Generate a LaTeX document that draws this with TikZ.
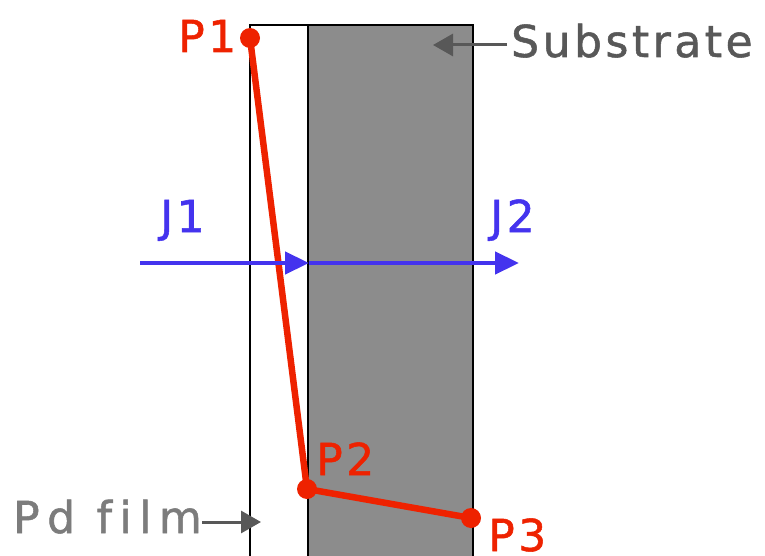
\documentclass[tikz,border=0pt]{standalone}
\usepackage{fontspec}
\setmainfont{DejaVu Sans}[LetterSpace=8,FakeBold=1.2,Ligatures=NoCommon]
\newfontfamily\pdfont{DejaVu Sans}[LetterSpace=17,FakeBold=1.2,Ligatures=NoCommon]
\usetikzlibrary{arrows.meta}
\definecolor{pred}{HTML}{EE2200}
\definecolor{jblue}{HTML}{4433EE}
\definecolor{subgray}{HTML}{8C8C8C}
\definecolor{lblgray}{HTML}{585858}
\definecolor{pdgray}{HTML}{7C7C7C}
\begin{document}
\begin{tikzpicture}[x=1pt,y=-1pt,
  lbl/.style={inner sep=0pt,font=\fontsize{44}{50}\selectfont},
  redlbl/.style={lbl,text=pred},
  bluelbl/.style={lbl,text=jblue},
  flux/.style={jblue,line width=4.5pt,-{Triangle[length=24pt,width=22pt]}},
  pointer/.style={lblgray,line width=3pt,-{Triangle[length=20pt,width=22pt]}},
  profile/.style={pred,line width=6.5pt,line join=round},
  dot/.style={circle,fill=pred,inner sep=0pt,minimum size=20pt}]
\useasboundingbox (0,0) rectangle (765,556);
% layers
\coordinate (ftl) at (250,25);
\coordinate (stl) at (308,25);
\coordinate (sbr) at (473,557);
\fill[subgray] (stl) rectangle (sbr);
\draw[black,line width=1.5pt] (ftl) rectangle (sbr);
\draw[black,line width=1.5pt] (stl) -- (308,557);
% points
\node[dot] (p1) at (250,38) {};
\node[dot] (p2) at (307,489) {};
\node[dot] (p3) at (471,518) {};
\draw[profile] (p1.center) -- (p2.center) -- (p3.center);
% flux
\coordinate (jin) at (140,263);
\coordinate (jmid) at (309,263);
\coordinate (jout) at (519,263);
\draw[flux] (jin) -- (jmid);
\draw[flux] (jmid) -- (jout);
% labels
\node[redlbl,anchor=base west] (lp1) at (178,52) {P1};
\node[redlbl,anchor=base west] (lp2) at (316,475) {P2};
\node[redlbl,anchor=base west] (lp3) at (488,551) {P3};
\node[bluelbl,anchor=base west] (lj1) at (160,232) {J1};
\node[bluelbl,anchor=base west] (lj2) at (490,232) {J2};
\node[lbl,text=lblgray,anchor=base west] (lsub) at (511,57) {Substrate};
\node[lbl,text=pdgray,anchor=base west,font=\fontsize{44}{50}\pdfont] (lpd) at (13,533) {Pd film};
\coordinate (subtip) at (433,45);
\coordinate (pdtip) at (261,522);
\draw[pointer] (lsub.west |- subtip) ++(-4,0) -- (subtip);
\draw[pointer] (lpd.east |- pdtip) -- (pdtip);
\end{tikzpicture}
\end{document}
